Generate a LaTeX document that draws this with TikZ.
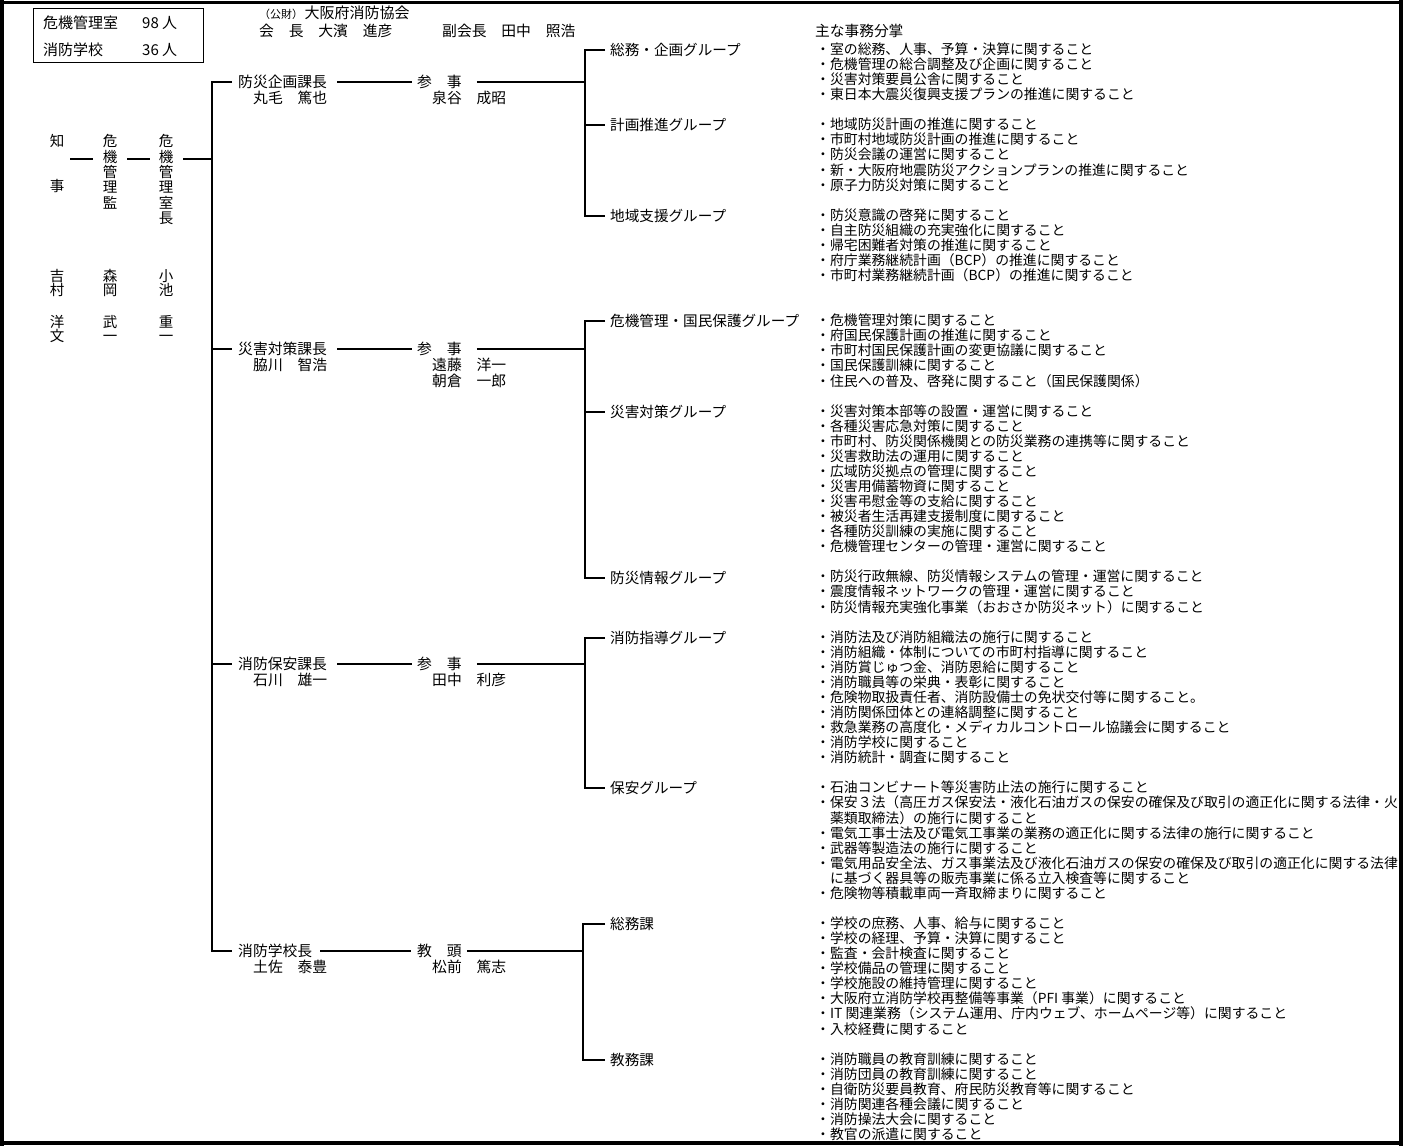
\documentclass[tikz,border=0pt]{standalone}
\usepackage{fontspec}
\setmainfont{Noto Sans CJK JP}
\newcommand\fsz[1]{\fontsize{#1pt}{#1pt}\selectfont}
\tikzset{
  lbl/.style={inner sep=0pt, text height=12.8pt, text depth=1.8pt, anchor=west},
  hd/.style={lbl, font=\fsz{14.8}},
  grp/.style={lbl, font=\fsz{14.6}},
  vcol/.style={inner sep=0pt, align=center, anchor=north, font=\fontsize{14.5pt}{15.4pt}\selectfont},
  vname/.style={vcol, font=\fontsize{14.5pt}{13.7pt}\selectfont},
  duty/.style={inner sep=0pt, align=left, anchor=north west, font=\fontsize{13.85pt}{15.07pt}\selectfont},
  conn/.style={line width=1.1pt},
}
\begin{document}
\begin{tikzpicture}[x=1pt, y=-1pt]
\useasboundingbox (0,0) rectangle (1403,1146);
% frame
\draw[line width=2.7pt] (0,2.7) -- (1403,2.7);
\draw[line width=4pt] (2,0) -- (2,1146);
\draw[line width=3.5pt] (1401,0) -- (1401,1146);
\draw[line width=4pt] (0,1143) -- (1403,1143);

% staff box
\node[draw, line width=0.8pt, minimum width=170pt, minimum height=54pt, anchor=north west, inner sep=0pt] (staffbox) at (33,8) {};
\node[lbl, font=\fsz{15}] (st1) at (43,23) {危機管理室};
\node[lbl, font=\fsz{15}] (st1n) at (142,23) {98 人};
\node[lbl, font=\fsz{15}] (st2) at (43,50) {消防学校};
\node[lbl, font=\fsz{15}] (st2n) at (142,50) {36 人};

% header
\node[lbl, font=\fsz{11}] (kozai) at (259,13) {（公財）};
\node[lbl, font=\fsz{15}, xshift=1pt] (kyokai) at (kozai.east) {大阪府消防協会};
\node[hd] (kaicho) at (259,31) {会　長　大濱　進彦};
\node[hd] (fuku) at (442,31) {副会長　田中　照浩};
\node[lbl, font=\fsz{14.7}] (duties) at (815,31) {主な事務分掌};

% vertical columns
\node[vcol] (gov) at (57,133.5) {\rule{0pt}{13pt}知\\[29.6pt]事};
\node[vcol] (kanrikan) at (110,133.5) {\rule{0pt}{13pt}危\\機\\管\\理\\監};
\node[vcol] (shitsucho) at (166,133.5) {\rule{0pt}{13pt}危\\機\\管\\理\\室\\長};
\node[vname] (govname) at (57,268.5) {\rule{0pt}{13pt}吉\\村\\[18.3pt]洋\\文};
\node[vname] (kanrikanname) at (110,268.5) {\rule{0pt}{13pt}森\\岡\\[18.3pt]武\\一};
\node[vname] (shitsuchoname) at (166,268.5) {\rule{0pt}{13pt}小\\池\\[18.3pt]重\\一};

% level 2 titles and names
\node[hd] (t1) at (238,82) {防災企画課長};
\node[hd] (t2) at (238,349) {災害対策課長};
\node[hd] (t3) at (238,664) {消防保安課長};
\node[hd] (t4) at (238,951) {消防学校長};
\node[hd] (n1) at (253,98) {丸毛　篤也};
\node[hd] (n2) at (253,365) {脇川　智浩};
\node[hd] (n3) at (253,680) {石川　雄一};
\node[hd] (n4) at (253,967) {土佐　泰豊};

\node[hd] (s1) at (417,82) {参　事};
\node[hd] (s2) at (417,349) {参　事};
\node[hd] (s3) at (417,664) {参　事};
\node[hd] (s4) at (417,951) {教　頭};
\node[hd] (p1) at (432,98) {泉谷　成昭};
\node[hd] (p2a) at (432,365) {遠藤　洋一};
\node[hd] (p2b) at (432,381) {朝倉　一郎};
\node[hd] (p3) at (432,680) {田中　利彦};
\node[hd] (p4) at (432,967) {松前　篤志};

% groups
\node[grp] (g1a) at (610,50) {総務・企画グループ};
\node[grp] (g1b) at (610,125) {計画推進グループ};
\node[grp] (g1c) at (610,216) {地域支援グループ};
\node[grp] (g2a) at (610,321) {危機管理・国民保護グループ};
\node[grp] (g2b) at (610,412) {災害対策グループ};
\node[grp] (g2c) at (610,578) {防災情報グループ};
\node[grp] (g3a) at (610,638) {消防指導グループ};
\node[grp] (g3b) at (610,788) {保安グループ};
\node[grp] (g4a) at (610,924) {総務課};
\node[grp] (g4b) at (610,1060) {教務課};

% connectors: top chain
\coordinate (lvl0) at (0,159);
\draw[conn] ([xshift=6pt]gov.east |- lvl0) -- ([xshift=-10pt]kanrikan.west |- lvl0);
\draw[conn] ([xshift=10pt]kanrikan.east |- lvl0) -- ([xshift=-9pt]shitsucho.west |- lvl0);
\draw[conn] ([xshift=10pt]shitsucho.east |- lvl0) -- ([xshift=-26pt]t1.west |- lvl0);

% trunk
\draw[conn] ([xshift=-6pt]t1.west) -- ([xshift=-26pt]t1.west) -- ([xshift=-26pt]t4.west) -- ([xshift=-6pt]t4.west);
\draw[conn] ([xshift=-26pt]t2.west) -- ([xshift=-6pt]t2.west);
\draw[conn] ([xshift=-26pt]t3.west) -- ([xshift=-6pt]t3.west);

% title to sanji
\draw[conn] ([xshift=10pt]t1.east) -- ([xshift=-5pt]s1.west);
\draw[conn] ([xshift=10pt]t2.east) -- ([xshift=-5pt]s2.west);
\draw[conn] ([xshift=10pt]t3.east) -- ([xshift=-5pt]s3.west);
\draw[conn] ([xshift=8pt]t4.east) -- ([xshift=-6pt]s4.west);

% sanji to buses
\coordinate (b1) at (585,82);
\coordinate (b2) at (585,349);
\coordinate (b3) at (585,664);
\coordinate (b4) at (583,951);
\draw[conn] ([xshift=15pt]s1.east) -- (b1);
\draw[conn] ([xshift=15pt]s2.east) -- (b2);
\draw[conn] ([xshift=15pt]s3.east) -- (b3);
\draw[conn] ([xshift=5pt]s4.east) -- (b4);

% buses
\draw[conn] ([xshift=-5pt]g1a.west) -- ([xshift=-25pt]g1a.west) -- ([xshift=-25pt]g1c.west) -- ([xshift=-5pt]g1c.west);
\draw[conn] ([xshift=-25pt]g1b.west) -- ([xshift=-5pt]g1b.west);
\draw[conn] ([xshift=-5pt]g2a.west) -- ([xshift=-25pt]g2a.west) -- ([xshift=-25pt]g2c.west) -- ([xshift=-5pt]g2c.west);
\draw[conn] ([xshift=-25pt]g2b.west) -- ([xshift=-5pt]g2b.west);
\draw[conn] ([xshift=-5pt]g3a.west) -- ([xshift=-25pt]g3a.west) -- ([xshift=-25pt]g3b.west) -- ([xshift=-5pt]g3b.west);
\draw[conn] ([xshift=-5pt]g4a.west) -- ([xshift=-27pt]g4a.west) -- ([xshift=-27pt]g4b.west) -- ([xshift=-5pt]g4b.west);

% duties
\node[duty] (d1) at (816,41.26) {\rule{0pt}{13pt}・室の総務、人事、予算・決算に関すること\\
・危機管理の総合調整及び企画に関すること\\
・災害対策要員公舎に関すること\\
・東日本大震災復興支援プランの推進に関すること};
\node[duty] (d2) at (816,116.61) {\rule{0pt}{13pt}・地域防災計画の推進に関すること\\
・市町村地域防災計画の推進に関すること\\
・防災会議の運営に関すること\\
・新・大阪府地震防災アクションプランの推進に関すること\\
・原子力防災対策に関すること};
\node[duty] (d3) at (816,207.03) {\rule{0pt}{13pt}・防災意識の啓発に関すること\\
・自主防災組織の充実強化に関すること\\
・帰宅困難者対策の推進に関すること\\
・府庁業務継続計画（BCP）の推進に関すること\\
・市町村業務継続計画（BCP）の推進に関すること};
\node[duty] (d4) at (816,312.52) {\rule{0pt}{13pt}・危機管理対策に関すること\\
・府国民保護計画の推進に関すること\\
・市町村国民保護計画の変更協議に関すること\\
・国民保護訓練に関すること\\
・住民への普及、啓発に関すること（国民保護関係）};
\node[duty] (d5) at (816,402.94) {\rule{0pt}{13pt}・災害対策本部等の設置・運営に関すること\\
・各種災害応急対策に関すること\\
・市町村、防災関係機関との防災業務の連携等に関すること\\
・災害救助法の運用に関すること\\
・広域防災拠点の管理に関すること\\
・災害用備蓄物資に関すること\\
・災害弔慰金等の支給に関すること\\
・被災者生活再建支援制度に関すること\\
・各種防災訓練の実施に関すること\\
・危機管理センターの管理・運営に関すること};
\node[duty] (d6) at (816,568.71) {\rule{0pt}{13pt}・防災行政無線、防災情報システムの管理・運営に関すること\\
・震度情報ネットワークの管理・運営に関すること\\
・防災情報充実強化事業（おおさか防災ネット）に関すること};
\node[duty] (d7) at (816,628.99) {\rule{0pt}{13pt}・消防法及び消防組織法の施行に関すること\\
・消防組織・体制についての市町村指導に関すること\\
・消防賞じゅつ金、消防恩給に関すること\\
・消防職員等の栄典・表彰に関すること\\
・危険物取扱責任者、消防設備士の免状交付等に関すること。\\
・消防関係団体との連絡調整に関すること\\
・救急業務の高度化・メディカルコントロール協議会に関すること\\
・消防学校に関すること\\
・消防統計・調査に関すること};
\node[duty] (d8) at (816,779.69) {\rule{0pt}{13pt}・石油コンビナート等災害防止法の施行に関すること\\
・保安３法（高圧ガス保安法・液化石油ガスの保安の確保及び取引の適正化に関する法律・火\\
　薬類取締法）の施行に関すること\\
・電気工事士法及び電気工事業の業務の適正化に関する法律の施行に関すること\\
・武器等製造法の施行に関すること\\
・電気用品安全法、ガス事業法及び液化石油ガスの保安の確保及び取引の適正化に関する法律\\
　に基づく器具等の販売事業に係る立入検査等に関すること\\
・危険物等積載車両一斉取締まりに関すること};
\node[duty] (d9) at (816,915.32) {\rule{0pt}{13pt}・学校の庶務、人事、給与に関すること\\
・学校の経理、予算・決算に関すること\\
・監査・会計検査に関すること\\
・学校備品の管理に関すること\\
・学校施設の維持管理に関すること\\
・大阪府立消防学校再整備等事業（PFI 事業）に関すること\\
・IT 関連業務（システム運用、庁内ウェブ、ホームページ等）に関すること\\
・入校経費に関すること};
\node[duty] (d10) at (816,1050.95) {\rule{0pt}{13pt}・消防職員の教育訓練に関すること\\
・消防団員の教育訓練に関すること\\
・自衛防災要員教育、府民防災教育等に関すること\\
・消防関連各種会議に関すること\\
・消防操法大会に関すること\\
・教官の派遣に関すること};
\end{tikzpicture}
\end{document}
